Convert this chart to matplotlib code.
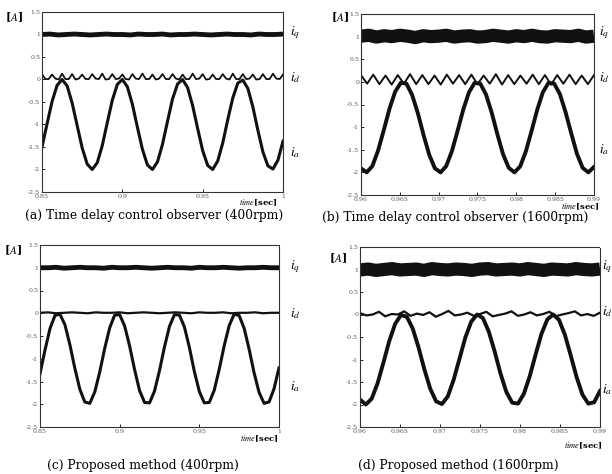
import numpy as np
import matplotlib
matplotlib.use("Agg")
import matplotlib.pyplot as plt

plt.rcParams["font.family"] = "DejaVu Serif"
plt.rcParams["mathtext.fontset"] = "stix"

# ---- panel (a): time delay control observer, 400rpm ----
t_a = np.linspace(0.85, 1.0, 49)
ia_a = [-1.50, -0.99, -0.49, -0.13, 0.00, -0.14, -0.52, -1.02, -1.52, -1.88,
        -2.00, -1.85, -1.47, -0.96, -0.46, -0.11, 0.00, -0.16, -0.55, -1.06,
        -1.55, -1.90, -2.00, -1.83, -1.44, -0.93, -0.43, -0.10, 0.00, -0.18,
        -0.58, -1.09, -1.58, -1.91, -2.00, -1.81, -1.41, -0.89, -0.41, -0.08,
        -0.01, -0.20, -0.61, -1.13, -1.61, -1.92, -1.99, -1.79, -1.37]
tid_a = np.linspace(0.85, 1.0, 73)
id_a = [0.12, 0.01, 0.01, 0.11, 0.02, 0.00, 0.13, 0.01, 0.01, 0.12, 0.00, 0.02,
        0.11, 0.01, 0.01, 0.12, 0.02, 0.01, 0.13, 0.00, 0.01, 0.12, 0.01, 0.02,
        0.11, 0.01, 0.00, 0.12, 0.02, 0.01, 0.13, 0.01, 0.01, 0.11, 0.00, 0.02,
        0.12, 0.01, 0.01, 0.12, 0.02, 0.00, 0.11, 0.01, 0.01, 0.13, 0.01, 0.02,
        0.12, 0.00, 0.01, 0.11, 0.01, 0.01, 0.12, 0.02, 0.00, 0.13, 0.01, 0.01,
        0.12, 0.01, 0.02, 0.11, 0.00, 0.01, 0.12, 0.01, 0.01, 0.13, 0.02, 0.01,
        0.11]
tiq_a = np.linspace(0.85, 1.0, 31)
iq_a = [1.00, 1.01, 0.99, 1.00, 1.01, 1.00, 0.99, 1.00, 1.01, 1.00, 1.00,
        0.99, 1.01, 1.00, 1.00, 1.01, 0.99, 1.00, 1.00, 1.01, 1.00, 0.99,
        1.00, 1.01, 1.00, 1.00, 0.99, 1.01, 1.00, 1.00, 1.01]

# ---- panel (b): time delay control observer, 1600rpm ----
t_b = np.linspace(0.96, 0.99, 42)
ia_b = [-1.91, -2.00, -1.86, -1.52, -1.07, -0.60, -0.22, -0.02, -0.04, -0.29,
        -0.69, -1.17, -1.61, -1.91, -2.00, -1.86, -1.53, -1.08, -0.61, -0.23,
        -0.02, -0.04, -0.28, -0.68, -1.16, -1.60, -1.90, -2.00, -1.87, -1.54,
        -1.09, -0.62, -0.23, -0.02, -0.04, -0.27, -0.67, -1.14, -1.59, -1.90,
        -2.00, -1.88]
tid_b = np.linspace(0.96, 0.99, 39)
id_b = [0.15, -0.04, 0.16, -0.05, 0.14, -0.06, 0.15, -0.04, 0.17, -0.05,
        0.15, -0.05, 0.14, -0.06, 0.16, -0.04, 0.15, -0.05, 0.16, -0.05,
        0.14, -0.04, 0.17, -0.06, 0.15, -0.05, 0.14, -0.04, 0.16, -0.05,
        0.15, -0.06, 0.15, -0.04, 0.16, -0.05, 0.14, -0.05, 0.15]
tiq_b = np.linspace(0.96, 0.99, 31)
iq_b = [1.01, 1.03, 0.99, 1.02, 1.00, 1.03, 1.01, 0.98, 1.02, 1.00, 1.01,
        1.03, 0.99, 1.01, 1.02, 0.99, 1.00, 1.03, 1.01, 0.99, 1.02, 1.00,
        1.03, 1.00, 0.99, 1.02, 1.01, 1.00, 1.03, 0.99, 1.01]

# ---- panel (c): proposed method, 400rpm ----
t_c = np.linspace(0.85, 1.0, 49)
ia_c = [-1.33, -0.81, -0.34, -0.05, -0.02, -0.25, -0.69, -1.21, -1.67, -1.95,
        -1.98, -1.73, -1.29, -0.77, -0.32, -0.04, -0.03, -0.28, -0.72, -1.24,
        -1.70, -1.96, -1.97, -1.71, -1.26, -0.74, -0.29, -0.03, -0.04, -0.30,
        -0.75, -1.28, -1.72, -1.97, -1.96, -1.69, -1.23, -0.71, -0.27, -0.02,
        -0.05, -0.33, -0.79, -1.31, -1.74, -1.98, -1.95, -1.66, -1.20]
tid_c = np.linspace(0.85, 1.0, 31)
id_c = [0.01, 0.02, 0.00, 0.01, 0.02, 0.01, 0.00, 0.02, 0.01, 0.01, 0.02,
        0.00, 0.01, 0.02, 0.01, 0.00, 0.01, 0.02, 0.01, 0.00, 0.02, 0.01,
        0.01, 0.02, 0.00, 0.01, 0.01, 0.02, 0.00, 0.01, 0.01]
tiq_c = np.linspace(0.85, 1.0, 31)
iq_c = [1.00, 1.00, 1.01, 0.99, 1.00, 1.01, 1.00, 1.00, 0.99, 1.01, 1.00,
        1.00, 1.01, 1.00, 0.99, 1.00, 1.01, 1.00, 1.00, 0.99, 1.01, 1.00,
        1.00, 1.01, 1.00, 0.99, 1.00, 1.00, 1.01, 1.00, 1.00]

# ---- panel (d): proposed method, 1600rpm ----
t_d = np.linspace(0.96, 0.99, 42)
ia_d = [-1.89, -2.00, -1.87, -1.53, -1.07, -0.59, -0.21, -0.01, -0.05, -0.31,
        -0.73, -1.22, -1.65, -1.93, -1.99, -1.82, -1.45, -0.98, -0.51, -0.16,
        0.00, -0.08, -0.38, -0.82, -1.31, -1.72, -1.96, -1.98, -1.76, -1.37,
        -0.89, -0.43, -0.11, 0.00, -0.12, -0.45, -0.91, -1.39, -1.78, -1.98,
        -1.95, -1.70]
tid_d = np.linspace(0.96, 0.99, 39)
id_d = [0.03, -0.02, 0.00, 0.06, -0.04, 0.01, 0.00, 0.07, -0.03, 0.02,
        -0.01, 0.05, -0.05, 0.01, 0.08, -0.02, 0.00, 0.04, -0.03, 0.01,
        0.06, -0.04, -0.01, 0.02, 0.07, -0.03, 0.00, 0.05, -0.02, 0.01,
        0.06, -0.04, 0.00, 0.03, 0.07, -0.02, 0.01, -0.03, 0.04]
tiq_d = np.linspace(0.96, 0.99, 31)
iq_d = [0.99, 1.01, 0.98, 1.00, 1.02, 0.99, 1.00, 1.01, 0.98, 1.02, 1.00,
        0.99, 1.01, 1.00, 0.98, 1.01, 1.02, 0.99, 1.00, 1.01, 0.99, 1.02,
        1.00, 0.98, 1.01, 1.00, 0.99, 1.02, 1.00, 0.99, 1.01]

y_ticks = [1.5, 1, 0.5, 0, -0.5, -1, -1.5, -2, -2.5]
y_labels = ["1.5", "1", "0.5", "0", "-0.5", "-1", "-1.5", "-2", "-2.5"]
x_ticks_slow = [0.85, 0.9, 0.95, 1.0]
x_labels_slow = ["0.85", "0.9", "0.95", "1"]
x_ticks_fast = [0.96, 0.965, 0.97, 0.975, 0.98, 0.985, 0.99]
x_labels_fast = ["0.96", "0.965", "0.97", "0.975", "0.98", "0.985", "0.99"]

W, H = 612, 474
fig = plt.figure(figsize=(W / 100, H / 100), dpi=100)


def px(x, y):
    return x / W, 1 - y / H


panels = [
    # rect in px (left, top, right, bottom)
    dict(rect=(42, 12, 283, 192), t=t_a, ia=ia_a, tid=tid_a, id=id_a, tiq=tiq_a, iq=iq_a,
         xl=(0.85, 1.0), xt=x_ticks_slow, xtl=x_labels_slow, lw_q=3.5, lw_a=2.2, lw_d=1.3),
    dict(rect=(361, 14, 594, 195), t=t_b, ia=ia_b, tid=tid_b, id=id_b, tiq=tiq_b, iq=iq_b,
         xl=(0.96, 0.99), xt=x_ticks_fast, xtl=x_labels_fast, lw_q=9.5, lw_a=2.8, lw_d=1.4),
    dict(rect=(40, 245, 279, 427), t=t_c, ia=ia_c, tid=tid_c, id=id_c, tiq=tiq_c, iq=iq_c,
         xl=(0.85, 1.0), xt=x_ticks_slow, xtl=x_labels_slow, lw_q=3.5, lw_a=2.2, lw_d=1.6),
    dict(rect=(360, 247, 600, 427), t=t_d, ia=ia_d, tid=tid_d, id=id_d, tiq=tiq_d, iq=iq_d,
         xl=(0.96, 0.99), xt=x_ticks_fast, xtl=x_labels_fast, lw_q=9.5, lw_a=2.8, lw_d=1.6),
]

for p in panels:
    l, t, r, b = p["rect"]
    ax = fig.add_axes([l / W, 1 - b / H, (r - l) / W, (b - t) / H])
    ax.plot(p["tiq"], p["iq"], color="#111111", lw=p["lw_q"], solid_capstyle="butt")
    ax.plot(p["tid"], p["id"], color="#111111", lw=p["lw_d"])
    ax.plot(p["t"], p["ia"], color="#111111", lw=p["lw_a"], solid_joinstyle="round")
    ax.set_xlim(*p["xl"])
    ax.set_ylim(-2.5, 1.5)
    ax.set_xticks(p["xt"])
    ax.set_xticklabels(p["xtl"])
    ax.set_yticks(y_ticks)
    ax.set_yticklabels(y_labels)
    ax.tick_params(direction="in", length=2, width=0.6, labelsize=4.5,
                   labelcolor="#555555", pad=1.2)
    for s in ax.spines.values():
        s.set_linestyle((0, (1, 1)))
        s.set_linewidth(0.8)
        s.set_color("#333333")

# [A] unit labels
for x, y in [(14, 17), (340, 17), (13, 250), (338, 258)]:
    fig.text(*px(x, y), "[$\\it{A}$]", fontsize=8, fontweight="bold",
             ha="center", va="center")

# curve labels
curve_labels = [
    (290, 33, 78, 153),
    (599, 33, 78, 150),
    (290, 267, 314, 387),
    (602, 267, 312, 390),
]
for x, yq, yd, ya in curve_labels:
    fig.text(*px(x, yq), "$i_q$", fontsize=9.5, ha="left", va="center")
    fig.text(*px(x, yd), "$i_d$", fontsize=9.5, ha="left", va="center")
    fig.text(*px(x, ya), "$i_a$", fontsize=9.5, ha="left", va="center")

# time axis labels
for x, y in [(278, 203), (600, 207), (279, 439), (603, 446)]:
    fig.text(*px(x, y), "$\\it{time}$[sec]", fontsize=6, fontweight="bold",
             ha="right", va="center")

captions = [
    (154, 215, "(a) Time delay control observer (400rpm)"),
    (455, 218, "(b) Time delay control observer (1600rpm)"),
    (143, 465, "(c) Proposed method (400rpm)"),
    (458, 465, "(d) Proposed method (1600rpm)"),
]
for x, y, s in captions:
    fig.text(*px(x, y), s, fontsize=8.8, ha="center", va="center")

fig.savefig("out.png", dpi=100)
